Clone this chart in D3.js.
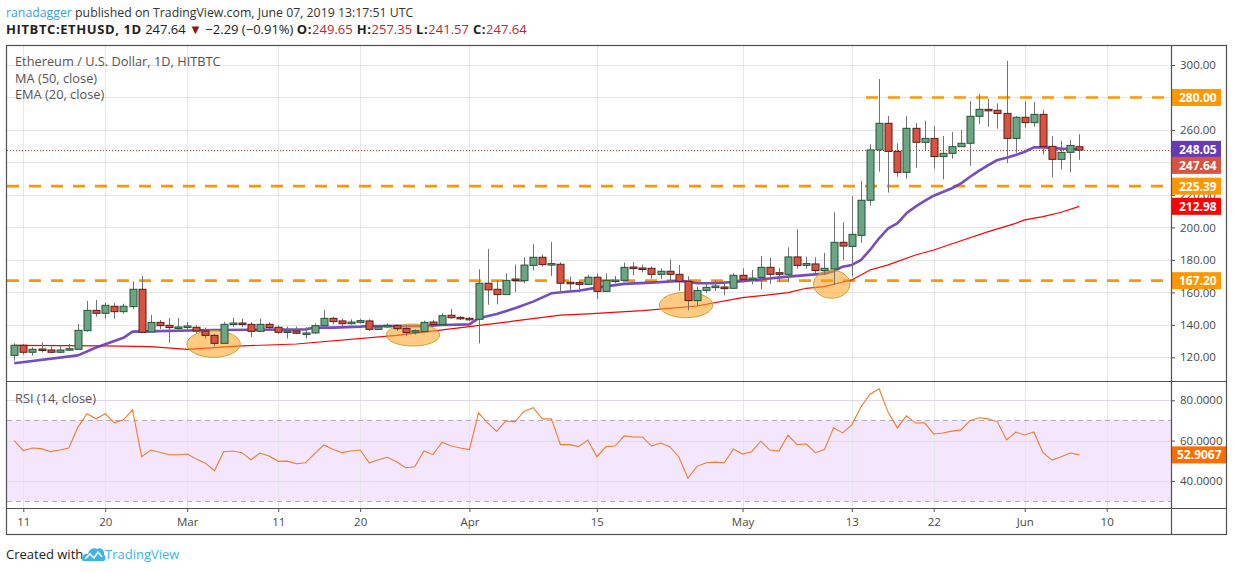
<!DOCTYPE html>
<html><head><meta charset="utf-8">
<script src="https://cdn.jsdelivr.net/npm/d3@7"></script>
<style>
body{margin:0;background:#fff;}
svg{display:block;font-family:"Open Sans","Noto Sans",sans-serif;}
</style>
</head><body>
<svg id="c" width="1234" height="572"></svg>
<script>
// ---------------- DATA ----------------
const firstDay = "2019-02-10";
const opens  = [121.2,127.4,123.1,125.1,124.5,123.1,124.5,124.9,136.4,148.9,147.1,151.4,148.1,151.2,161.9,135.6,141.5,139.7,138.3,138.3,138.5,136.2,133.5,128.6,140.3,141.1,140.3,136.0,140.3,138.5,135.4,136.2,134.6,135.0,139.5,144.0,142.4,140.7,141.5,142.4,137.2,138.7,139.7,137.8,135.4,135.8,141.7,140.1,145.9,144.6,144.0,143.4,165.6,161.9,158.6,168.2,167.2,176.6,181.6,177.1,177.3,166.2,166.0,164.9,169.3,160.6,167.0,167.4,175.6,175.0,174.8,171.1,173.0,171.1,166.8,154.9,161.2,162.9,163.3,162.5,170.5,167.8,169.2,175.4,172.1,171.1,181.8,176.6,177.5,173.4,174.4,190.8,188.3,195.1,216.7,247.7,264.1,246.8,233.9,261.0,252.4,254.8,243.6,245.6,249.7,251.8,268.4,272.7,272.1,270.2,254.8,267.8,264.5,269.6,249.9,241.9,246.2,249.65];
const highs  = [128.6,128.2,126.2,129.2,127.0,127.4,128.2,140.5,154.7,155.3,153.7,153.4,153.0,166.8,170.1,146.1,143.0,144.2,144.2,141.7,139.7,138.3,134.4,141.7,144.4,143.8,141.7,143.8,141.5,139.5,138.9,138.9,138.5,140.9,149.1,145.0,144.0,143.4,143.8,143.4,139.7,140.9,140.3,138.9,137.2,142.6,143.0,147.1,149.8,145.4,144.8,174.2,186.7,167.6,171.7,177.1,181.6,189.8,183.2,191.0,178.5,169.7,167.2,170.7,171.7,171.7,170.1,178.3,178.7,177.1,176.0,174.8,180.3,176.9,169.9,163.5,166.4,167.6,166.8,171.7,174.8,173.8,182.4,181.2,175.2,187.7,198.8,182.0,181.6,184.4,209.3,203.1,219.3,228.6,251.2,291.4,268.6,251.8,268.6,264.3,265.7,262.4,256.3,258.7,260.0,277.8,282.1,279.1,276.4,302.5,268.6,277.8,277.2,272.3,256.3,253.4,253.8,257.35];
const lows   = [117.9,121.6,121.0,122.9,122.5,122.5,124.1,124.9,135.8,145.0,143.8,143.8,146.9,149.6,135.4,135.6,137.4,129.0,135.8,137.2,134.8,131.5,126.6,128.6,138.5,138.5,132.5,136.0,136.8,134.4,131.5,134.2,131.5,134.4,139.5,140.3,139.3,140.1,140.9,136.2,136.8,138.1,136.2,133.1,133.9,135.8,138.9,139.3,143.8,143.0,142.6,128.6,152.4,152.6,158.6,160.2,165.6,173.4,175.8,170.1,160.0,160.4,159.8,164.5,155.7,160.6,165.6,167.4,170.5,172.3,168.4,168.2,166.2,161.0,148.9,151.6,159.4,160.8,158.2,162.5,166.0,164.9,161.9,165.0,166.4,166.4,174.6,174.6,171.7,170.9,164.5,179.9,169.7,190.6,213.4,234.3,221.4,231.2,230.0,236.8,247.7,236.2,229.6,242.3,249.7,238.0,263.7,262.0,260.8,239.5,246.0,261.4,262.0,245.0,230.8,235.8,233.9,241.57];
const closes = [127.4,123.1,124.9,124.3,123.1,124.5,125.3,136.6,148.9,147.1,152.0,148.1,151.4,161.9,135.4,141.5,139.5,138.3,138.7,139.3,136.2,133.5,128.6,140.3,141.1,140.3,136.0,140.3,138.3,135.4,136.2,134.8,135.0,139.5,144.0,142.0,140.7,141.7,142.6,137.2,138.7,139.7,137.6,135.2,136.4,141.5,140.1,145.6,144.4,143.8,143.2,165.6,161.5,158.6,167.4,167.4,176.8,181.6,177.1,177.7,165.6,165.4,164.9,169.3,160.6,167.4,167.6,175.4,174.6,174.6,171.1,173.0,171.1,166.8,154.9,161.2,163.1,163.9,162.3,170.5,168.0,168.8,175.4,171.1,171.1,181.8,176.6,177.7,173.4,174.8,190.8,188.5,195.7,216.7,247.7,264.1,246.8,233.9,261.0,252.4,254.8,243.6,245.6,249.7,251.8,268.4,272.7,271.9,270.2,254.8,267.8,264.5,269.6,249.9,241.9,246.2,250.5,247.64];

// EMA(20) and MA(50) (day index from firstDay, value)
const emaDays = [0,7,9,12,13,22,32,33,35,38,39,42,45,47,50,51,53,55,57,59,61,62,64,67,70,73,74,75,77,79,82,85,87,89,90,91,92,93,94,95,96,97,98,99,100,101,102,103,104,105,106,107,108,109,110,111,112,113,114,115,116,117];
const emaVals = [116.3,121.2,126.0,132.0,135.8,136.8,137.2,138.3,138.3,138.9,139.3,139.3,139.1,139.9,140.3,144.0,146.7,150.2,154.3,159.4,160.5,161.0,162.9,165.2,166.0,167.0,166.6,165.6,165.6,166.4,168.0,169.7,170.6,171.5,173.0,175.8,176.9,179.9,186.1,193.3,199.4,202.5,208.7,212.8,216.3,219.5,221.8,224.1,227.1,231.2,235.0,238.4,241.5,242.9,244.6,246.6,249.3,249.3,248.9,248.5,248.4,248.05];
const maDays = [0,10,15,19,22,25,31,42,50,55,60,63,69,75,80,85,87,89,90,92,94,96,99,101,104,107,110,111,113,115,117];
const maVals = [127.4,127.0,126.6,124.9,125.9,127.0,128.2,133.5,138.9,142.4,146.0,146.8,148.7,151.6,156.7,159.8,162.5,163.5,165.0,167.6,173.8,176.9,183.0,186.1,191.8,197.4,202.5,204.6,206.6,209.3,212.98];

const rsiVals = [60.0,55.0,56.3,56.0,54.5,55.3,56.3,66.7,73.3,70.8,73.3,68.8,70.3,75.3,52.0,55.3,54.2,53.0,53.0,53.3,50.8,48.8,45.0,54.5,54.8,54.0,50.5,53.8,52.3,49.7,49.8,48.5,49.0,53.5,57.8,55.7,54.0,54.8,55.3,49.0,50.5,51.7,49.5,46.5,47.0,54.8,53.0,59.2,57.3,56.3,55.5,73.7,68.8,64.5,69.8,69.3,74.5,76.3,70.8,70.8,58.0,58.0,57.0,60.3,52.0,57.0,57.3,62.3,61.8,61.8,57.3,58.8,57.0,52.0,41.3,47.2,49.0,49.3,49.0,55.8,53.3,54.5,59.7,55.3,54.8,62.7,58.0,58.3,54.0,55.5,66.3,63.8,67.8,76.7,83.0,85.7,74.0,66.3,72.3,68.7,68.8,63.3,63.8,64.7,65.3,70.0,71.3,70.8,69.3,60.3,64.2,62.8,64.3,54.0,50.3,52.0,53.8,52.9067];

const levels = [280.00, 225.39, 167.20];
const level280From = "2019-05-15";
const priceTicks = [120,140,160,180,200,220,240,260,280,300];
const rsiTicks = [40,60,80];
const rsiBands = [70,30];
const timeTickDates = ["2019-02-11","2019-02-20","2019-03-01","2019-03-11","2019-03-20","2019-04-01","2019-04-15","2019-05-01","2019-05-13","2019-05-22","2019-06-01","2019-06-10"];
const timeTickLabels = ["11","20","Mar","11","20","Apr","15","May","13","22","Jun","10"];
// highlighted zones: centre (day index, price)
const zoneDays = [21.9, 43.8, 73.8, 89.8];
const zonePrices = [128.2, 133.7, 152.2, 165.0];

// ---------------- LAYOUT / STYLE ----------------
const L = 7, R = 1171, RR = 1227, TOP = 46, SEP = 381, AX = 508, BOT = 535;
const zoneRadii = [[26.7,13.3],[26.7,11],[26.7,12.7],[18.3,14]];
const C = {up:"#6BA583", down:"#D75442", upB:"#225437", downB:"#5B1A13", wick:"#737375",
  grid:"#e6e6e6", frame:"#505050", txt:"#4a4a4a", orange:"#FF9800", purple:"#673AB7", ma:"#FF0000", rsi:"#F57C2C"};

const svg = d3.select("#c");
const parse = d3.utcParse("%Y-%m-%d");
const day0 = parse(firstDay);
const dayAt = i => new Date(day0.getTime() + i*864e5);
const dates = closes.map((_, i) => dayAt(i));

const x = d3.scaleUtc().domain([parse("2019-02-11"), parse("2019-06-10")]).range([23.3, 1106.7]);
const y = d3.scaleLinear().domain([120, 300]).range([357.3, 65]);
const yr = d3.scaleLinear().domain([30, 80]).range([501, 400.3]);

// clip paths
const defs = svg.append("defs");
defs.append("clipPath").attr("id","cp").append("rect").attr("x",L).attr("y",TOP).attr("width",R-L).attr("height",SEP-TOP);
defs.append("clipPath").attr("id","cr").append("rect").attr("x",L).attr("y",SEP).attr("width",R-L).attr("height",AX-SEP);

// ----- header -----
const h1 = svg.append("text").attr("x",6).attr("y",17).attr("font-size",12.3).attr("fill","#333");
h1.append("tspan").attr("fill","#3d9fe0").text("ranadagger");
h1.append("tspan").text(" published on TradingView.com, June 07, 2019 13:17:51 UTC");
const h2 = svg.append("text").attr("x",6).attr("y",34).attr("font-size",13).attr("fill","#222");
h2.append("tspan").attr("font-weight","bold").attr("letter-spacing",0.6).text("HITBTC:ETHUSD, 1D");
h2.append("tspan").text(" 247.64 ");
h2.append("tspan").attr("fill","#8b1414").text("▼");
h2.append("tspan").text(" −2.29 (−0.91%) ");
[["O:","249.65"],["H:","257.35"],["L:","241.57"],["C:","247.64"]].forEach(([k,v],i)=>{
  h2.append("tspan").attr("font-weight","bold").attr("letter-spacing",0.6).text((i?" ":"")+k);
  h2.append("tspan").attr("fill","#c0282d").text(v);
});

// ----- RSI band background -----
svg.append("rect").attr("x",L).attr("width",R-L).attr("y",yr(rsiBands[0])).attr("height",yr(rsiBands[1])-yr(rsiBands[0])).attr("fill","#f3e6fd");

// ----- grid -----
const grid = svg.append("g").attr("stroke",C.grid).attr("stroke-width",1);
timeTickDates.forEach(d=>{
  const xx = Math.round(x(parse(d)))+0.5;
  grid.append("line").attr("x1",xx).attr("x2",xx).attr("y1",TOP).attr("y2",AX);
});
priceTicks.forEach(p=>{
  const yy = Math.round(y(p))+0.5;
  grid.append("line").attr("x1",L).attr("x2",R).attr("y1",yy).attr("y2",yy);
});
rsiTicks.forEach(v=>{
  const yy = Math.round(yr(v))+0.5;
  svg.append("line").attr("stroke","#e2d6ea").attr("x1",L).attr("x2",R).attr("y1",yy).attr("y2",yy);
});
rsiBands.forEach(v=>{
  const yy = Math.round(yr(v))+0.5;
  svg.append("line").attr("stroke","#b3a9b8").attr("stroke-dasharray","5,4").attr("x1",L).attr("x2",R).attr("y1",yy).attr("y2",yy);
});

// ----- price pane -----
const pp = svg.append("g").attr("clip-path","url(#cp)");

// horizontal levels
levels.forEach(p=>{
  const x0 = p===280 ? x(parse(level280From)) - 4 : L;
  pp.append("line").attr("x1",x0).attr("x2",R).attr("y1",y(p)).attr("y2",y(p))
    .attr("stroke",C.orange).attr("stroke-width",2.6).attr("stroke-dasharray","12,10");
});
// last close dotted
const yc = Math.round(y(closes[closes.length-1]))+0.5;
pp.append("line").attr("x1",L).attr("x2",R).attr("y1",yc).attr("y2",yc)
  .attr("stroke","#c0392b").attr("stroke-width",1).attr("stroke-dasharray","1,2");

// MA lines
const lineGen = d3.line().x(d=>x(dayAt(d[0]))).y(d=>y(d[1]));
pp.append("path").attr("d",lineGen(maDays.map((d,i)=>[d,maVals[i]]))).attr("fill","none").attr("stroke",C.ma).attr("stroke-width",1.2);
pp.append("path").attr("d",lineGen(emaDays.map((d,i)=>[d,emaVals[i]]))).attr("fill","none").attr("stroke",C.purple).attr("stroke-width",2.6).attr("stroke-opacity",0.9).attr("stroke-linejoin","round");

// zones
zoneDays.forEach((d,i)=>{
  pp.append("ellipse").attr("cx",x(dayAt(d))).attr("cy",y(zonePrices[i]))
    .attr("rx",zoneRadii[i][0]).attr("ry",zoneRadii[i][1])
    .attr("fill","rgba(255,160,30,0.55)").attr("stroke","#c9a43a").attr("stroke-width",1);
});

// candles
const bw = 7;
const cg = pp.append("g");
closes.forEach((c,i)=>{
  const o = opens[i], up = c >= o;
  const cx = Math.round(x(dates[i]));
  cg.append("line").attr("x1",cx+0.5).attr("x2",cx+0.5).attr("y1",y(highs[i])).attr("y2",y(lows[i])).attr("stroke",C.wick).attr("stroke-width",1);
  const yt = y(Math.max(o,c)), yb = y(Math.min(o,c));
  const h = Math.max(yb-yt, 1.5);
  cg.append("rect").attr("x",cx-3).attr("y",yt).attr("width",bw).attr("height",h)
    .attr("fill",up?C.up:C.down).attr("stroke",up?C.upB:C.downB).attr("stroke-width",1);
});

// ----- RSI line -----
svg.append("g").attr("clip-path","url(#cr)").append("path")
  .attr("d",d3.line().x((d,i)=>x(dates[i])).y(d=>yr(d))(rsiVals))
  .attr("fill","none").attr("stroke",C.rsi).attr("stroke-width",1.1);

// ----- legends -----
const lg = svg.append("g").attr("font-size",12.8).attr("fill","#555");
lg.append("text").attr("x",15).attr("y",66).text("Ethereum / U.S. Dollar, 1D, HITBTC");
lg.append("text").attr("x",15).attr("y",83).text("MA (50, close)");
lg.append("text").attr("x",15).attr("y",99).text("EMA (20, close)");
lg.append("text").attr("x",15).attr("y",403).text("RSI (14, close)");

// ----- label boxes on price scale -----
const boxes = [
  {v:levels[0], t:"280.00", c:C.orange},
  {v:emaVals[emaVals.length-1], t:"248.05", c:C.purple},
  {v:closes[closes.length-1], t:"247.64", c:C.down},
  {v:levels[1], t:"225.39", c:C.orange},
  {v:maVals[maVals.length-1], t:"212.98", c:"#FF0000"},
  {v:levels[2], t:"167.20", c:C.orange}
].map(b=>({...b, yy:y(b.v)})).sort((a,b)=>a.yy-b.yy);
const BH = 17;
for (let i=1;i<boxes.length;i++){
  if (boxes[i].yy - boxes[i-1].yy < BH-1) boxes[i].yy = boxes[i-1].yy + BH - 1;
}

// ----- axes -----
// tick labels that sit fully under a value box are not shown (as on the reference)
const hidden = priceTicks.filter(p => boxes.some(b => Math.abs(y(p) - b.yy) < 5.5));
const pAxis = svg.append("g").attr("transform",`translate(${R},0)`)
  .call(d3.axisRight(y).tickValues(priceTicks).tickFormat(d => hidden.includes(d) ? "" : d3.format(".2f")(d)).tickSize(4).tickPadding(5));
const rAxis = svg.append("g").attr("transform",`translate(${R},0)`)
  .call(d3.axisRight(yr).tickValues(rsiTicks).tickFormat(d3.format(".4f")).tickSize(4).tickPadding(5));
const tAxis = svg.append("g").attr("transform",`translate(0,${AX})`)
  .call(d3.axisBottom(x).tickValues(timeTickDates.map(parse)).tickFormat((d,i)=>timeTickLabels[i]).tickSize(4).tickPadding(6));
[pAxis,rAxis,tAxis].forEach(a=>{
  a.select(".domain").remove();
  a.selectAll("line").attr("stroke","#555");
  a.selectAll("text").attr("fill",C.txt).attr("font-size",11.5).attr("font-family","'Open Sans',sans-serif");
});

boxes.forEach(b=>{
  svg.append("rect").attr("x",R).attr("y",b.yy-BH/2).attr("width",50).attr("height",BH).attr("fill",b.c);
  svg.append("text").attr("x",R+8).attr("y",b.yy+4.5).attr("font-size",12).attr("font-weight","bold").attr("fill","#fff").text(b.t);
});
// RSI value box
const rl = rsiVals[rsiVals.length-1];
svg.append("rect").attr("x",R).attr("y",yr(rl)-BH/2).attr("width",RR-R).attr("height",BH).attr("fill","#FF6D00");
svg.append("text").attr("x",R+6).attr("y",yr(rl)+4.5).attr("font-size",12).attr("font-weight","bold").attr("fill","#fff").text(d3.format(".4f")(rl));

// ----- frame -----
const fr = svg.append("g").attr("stroke",C.frame).attr("stroke-width",1.2).attr("fill","none");
fr.append("rect").attr("x",L-0.5).attr("y",TOP-0.5).attr("width",RR-L).attr("height",BOT-TOP);
fr.append("line").attr("x1",R+0.5).attr("x2",R+0.5).attr("y1",TOP).attr("y2",BOT);
fr.append("line").attr("x1",L).attr("x2",RR).attr("y1",SEP+0.5).attr("y2",SEP+0.5);
fr.append("line").attr("x1",L).attr("x2",RR).attr("y1",AX+0.5).attr("y2",AX+0.5);

// ----- footer -----
svg.append("text").attr("x",6).attr("y",559).attr("font-size",13).attr("fill","#222").text("Created with");
const logo = svg.append("g").attr("transform","translate(82,546)");
logo.append("path").attr("d","M0,14 C0,9 3,7 6,8 C7,3 11,1 15,3 C18,1 23,4 22,9 C24,10 24,14 22,15 L1,15 Z").attr("fill","#3cb4e6");
logo.append("path").attr("d","M3,13 L8,8 L12,12 L16,6 L20,11").attr("fill","none").attr("stroke","#fff").attr("stroke-width",1.6);
svg.append("text").attr("x",105).attr("y",559).attr("font-size",13).attr("fill","#3cb4e6").text("TradingView");
</script>
</body></html>
